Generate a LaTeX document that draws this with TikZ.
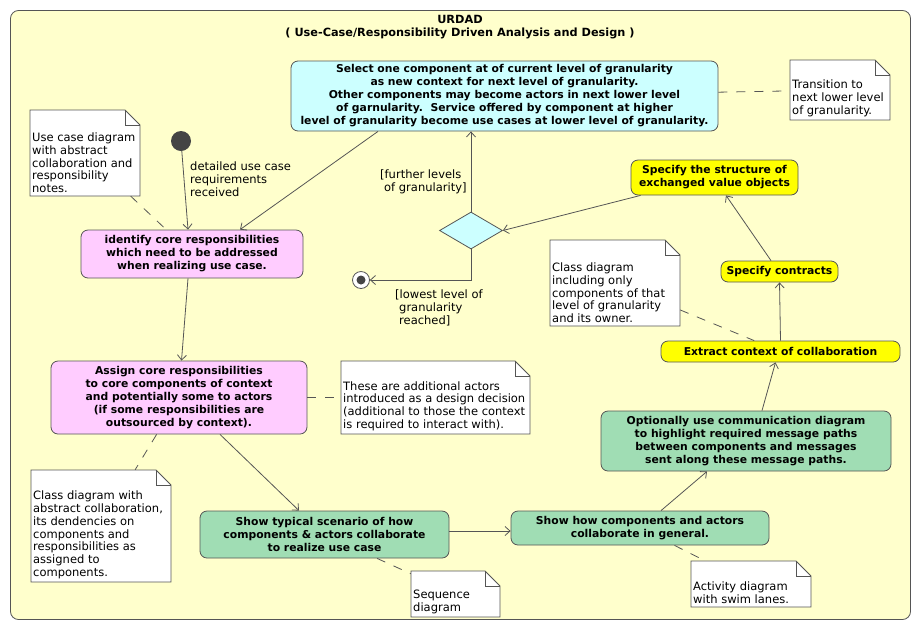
\documentclass[tikz,border=0pt]{standalone}
\usepackage{fontspec}
\setmainfont{DejaVu Sans}
\usetikzlibrary{arrows.meta,shapes.geometric}
\definecolor{frameY}{HTML}{FFFFCC}
\definecolor{lineG}{HTML}{555555}
\definecolor{cyanB}{HTML}{CCFFFF}
\definecolor{pinkB}{HTML}{FFCCFF}
\definecolor{yelB}{HTML}{FFFF00}
\definecolor{greenB}{HTML}{A0DDB4}
\definecolor{startG}{HTML}{444444}
\newcommand\bxfont{\bfseries\fontsize{10.8}{13}\selectfont}
\newcommand\ttlfont{\bfseries\fontsize{11.3}{13}\selectfont}
\newcommand\ntfont{\fontsize{11.5}{12.8}\selectfont}
\newcommand\umlnote[6]{%
  \path[notebody] (#2,#3) -- ({#4-15},#3) -- (#4,{#3+15}) -- (#4,#5) -- (#2,#5) -- cycle;
  \draw[lineG, line width=0.8pt] ({#4-15},#3) -- ({#4-15},{#3+15}) -- (#4,{#3+15});
  \node[inner sep=0pt, minimum width={#4pt-#2pt}, minimum height={#5pt-#3pt}] (#1) at ({(#2+#4)/2},{(#3+#5)/2}) {};
  \node[notetext] (#1t) at ({#2+2},{#5-3}) {#6};
}
\begin{document}
\begin{tikzpicture}[x=1pt,y=-1pt,
  box/.style={draw=lineG, line width=0.8pt, rounded corners=7pt, align=center, inner sep=0pt, font=\bxfont},
  arr/.style={draw=lineG, line width=0.8pt, -{Straight Barb[length=5pt,width=9pt]}},
  dashline/.style={draw=lineG, line width=0.8pt, dash pattern=on 9pt off 9pt},
  notebody/.style={fill=white, draw=lineG, line width=0.8pt},
  notetext/.style={anchor=south west, inner sep=0pt, align=left, font=\ntfont},
  lbl/.style={inner sep=0pt, align=left, font=\ntfont}]
\useasboundingbox (0,0) rectangle (920,630);
\fill[white] (0,0) rectangle (920,630);
\node[draw=lineG, fill=frameY, line width=0.8pt, rounded corners=8pt, minimum width=900pt, minimum height=609pt, inner sep=0pt] (frame) at (460.5,315) {};
\node[font=\ttlfont, align=center, inner sep=0pt] (title) at (460,27) {URDAD\\( Use-Case/Responsibility Driven Analysis and Design )};

% boxes
\node[box, fill=cyanB, minimum width=427pt, minimum height=70pt] (top) at (504.5,96) {Select one component at of current level of granularity\\ as new context for next level of granularity.\\ Other components may become actors in next lower level\\ of garnularity.\ \ Service offered by component at higher\\ level of granularity become use cases at lower level of granularity.};
\node[box, fill=pinkB, minimum width=222pt, minimum height=48pt] (ident) at (192,254) {identify core responsibilities\\ which need to be addressed\\ when realizing use case.};
\node[box, fill=pinkB, minimum width=256pt, minimum height=73pt] (assign) at (179,397.5) {Assign core responsibilities\\ to core components of context\\ and potentially some to actors\\ (if some responsibilities are\\ outsourced by context).};
\node[box, fill=greenB, minimum width=249pt, minimum height=47pt] (typical) at (324.5,534.5) {Show typical scenario of how\\ components \& actors collaborate\\ to realize use case};
\node[box, fill=greenB, minimum width=258pt, minimum height=34pt] (general) at (640,528) {Show how components and actors\\ collaborate in general.};
\node[box, fill=greenB, minimum width=290pt, minimum height=60pt] (option) at (746,441) {Optionally use communication diagram\\ to highlight required message paths\\ between components and messages\\ sent along these message paths.};
\node[box, fill=yelB, minimum width=239pt, minimum height=21pt] (extract) at (780.5,351.5) {Extract context of collaboration};
\node[box, fill=yelB, minimum width=117pt, minimum height=21pt] (contract) at (779.5,271.5) {Specify contracts};
\node[box, fill=yelB, minimum width=167pt, minimum height=35pt] (struct) at (714.5,177.5) {Specify the structure of\\ exchanged value objects};

% pseudo states
\node[circle, fill=startG, minimum size=20pt, inner sep=0pt] (start) at (181,141) {};
\node[circle, draw=lineG, fill=white, line width=0.8pt, minimum size=17pt, inner sep=0pt] (final) at (361,280) {};
\node[circle, fill=startG, minimum size=9pt, inner sep=0pt] (finaldot) at (361,280) {};
\node[diamond, draw=lineG, fill=cyanB, line width=0.8pt, inner sep=0pt, minimum width=63pt, minimum height=37pt] (dec) at (471,230.5) {};

% labels
\node[lbl, anchor=west] (lstart) at (190,179) {detailed use case\\requirements\\received};
\node[lbl, anchor=west] (lfurther) at (380,181.5) {[further levels\\\hspace*{4pt}of granularity]};
\node[lbl, anchor=west] (llowest) at (395,308) {[lowest level of\\\hspace*{4pt}granularity\\\hspace*{4pt}reached]};

% notes
\umlnote{n1}{30}{110}{140}{196}{Use case diagram\\with abstract\\collaboration and\\responsibility\\notes.}
\umlnote{n2}{790}{60}{890}{120}{Transition to\\next lower level\\of granularity.}
\umlnote{n3}{550}{240}{680}{326}{Class diagram\\including only\\components of that\\level of granularity\\and its owner.}
\umlnote{n4}{341}{361}{530}{434}{These are additional actors\\introduced as a design decision\\(additional to those the context\\is required to interact with).}
\umlnote{n5}{31}{470}{171}{582}{Class diagram with\\abstract collaboration,\\its dendencies on\\components and\\responsibilities as\\assigned to\\components.}
\umlnote{n6}{411}{571}{500}{617}{Sequence\\diagram}
\umlnote{n7}{691}{561}{811}{607}{Activity diagram\\with swim lanes.}

% connectors
\draw[arr] (start) -- ([xshift=-4pt]ident.north);
\draw[arr] ([xshift=-126.5pt]top.south) -- ([xshift=48pt]ident.north);
\draw[arr] ([xshift=-4pt]ident.south) -- ([xshift=2.5pt]assign.north);
\draw[arr] ([xshift=41pt]assign.south) -- ([xshift=-25.5pt]typical.north);
\draw[arr] ([yshift=3.5pt]typical.east) -- ([yshift=-3pt]general.west);
\draw[arr] ([xshift=21pt]general.north) -- ([xshift=-39pt]option.south);
\draw[arr] ([xshift=16pt]option.north) -- ([xshift=-5pt]extract.south);
\draw[arr] (extract.north) -- (contract.south);
\draw[arr] ([xshift=-8.5pt]contract.north) -- ([xshift=11.5pt]struct.south);
\draw[arr] ([xshift=10pt]struct.south west) -- (dec.east);
\draw[arr] (dec.north) -- (dec.north |- top.south);
\draw[arr] (dec.south) |- (final);

\draw[dashline] (n1) -- (ident);
\draw[dashline] (top) -- (n2);
\draw[dashline] (n3) -- (extract);
\draw[dashline] (assign) -- (n4);
\draw[dashline] (assign) -- (n5);
\draw[dashline] (typical) -- (n6);
\draw[dashline] (general) -- (n7);
\end{tikzpicture}
\end{document}
